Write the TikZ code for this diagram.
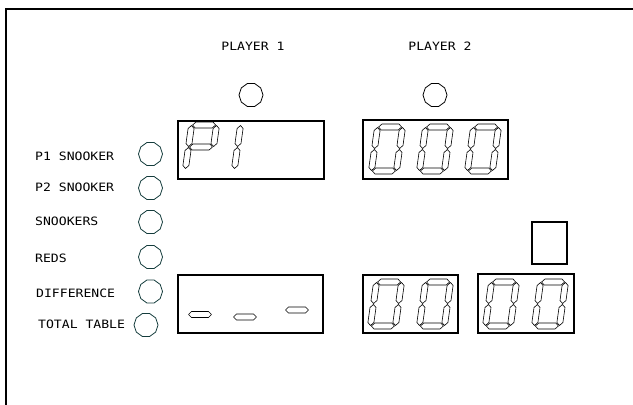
\documentclass[tikz,border=0pt]{standalone}
\usepackage{fontspec}
\newfontfamily\cadfont[FakeStretch=1.14]{DejaVu Sans Mono}
\usetikzlibrary{shapes.geometric}
\definecolor{lampc}{RGB}{20,60,60}
\tikzset{
  seg/.style={draw, line width=0.6pt, line join=round},
  lab/.style={font=\cadfont\fontsize{11.5}{12}\selectfont, inner sep=0pt, anchor=west},
  ttl/.style={font=\cadfont\fontsize{11.5}{12}\selectfont, inner sep=0pt},
  lamp/.style={draw=lampc, regular polygon, regular polygon sides=10, minimum size=24pt, inner sep=0pt, line width=0.8pt},
  plamp/.style={lamp, draw=black},
  panel/.style={draw, line width=1.2pt},
  frameline/.style={draw, line width=1.8pt}
}
\newcommand\hseg[2]{\draw[seg] (#1,#2) ++(-11.5,0) -- ++(3,-3) -- ++(17,0) -- ++(3,3) -- ++(-3,3) -- ++(-17,0) -- cycle;}
\newcommand\vseg[2]{\draw[seg] (#1,#2) ++(0,-10.5) -- ++(3,3) -- ++(0,15) -- ++(-3,3) -- ++(-3,-3) -- ++(0,-15) -- cycle;}
\newcommand\segA{\hseg{0}{-22}}
\newcommand\segB{\vseg{12.5}{-11}}
\newcommand\segC{\vseg{12.5}{11}}
\newcommand\segD{\hseg{0}{22}}
\newcommand\segE{\vseg{-12.5}{11}}
\newcommand\segF{\vseg{-12.5}{-11}}
\newcommand\segG{\hseg{0}{0}}
\newcommand\digit[3]{\begin{scope}[shift={(#1,#2)}, xslant=0.14]#3\end{scope}}
\begin{document}
\begin{tikzpicture}[x=1pt,y=-1pt]
\useasboundingbox (0,0) rectangle (633,405);
% frame
\draw[frameline] (633,9) -- (6,9) -- (6,405);
% titles
\node[ttl] (t1) at (253,46) {PLAYER 1};
\node[ttl] (t2) at (440,46) {PLAYER 2};
\node[plamp] (pl1) at (251,95) {};
\node[plamp] (pl2) at (435,95) {};
% left labels and lamps
\node[lab] (l1) at (35,156) {P1 SNOOKER};
\node[lab] (l2) at (35,187) {P2 SNOOKER};
\node[lab] (l3) at (35,221) {SNOOKERS};
\node[lab] (l4) at (35,258) {REDS};
\node[lab] (l5) at (36,293) {DIFFERENCE};
\node[lab] (l6) at (38,324) {TOTAL TABLE};
\node[lamp] (c1) at (150.5,154) {};
\node[lamp] (c2) at (150.5,188) {};
\node[lamp] (c3) at (150.5,222) {};
\node[lamp] (c4) at (150.5,257) {};
\node[lamp] (c5) at (150.5,291.5) {};
\node[lamp] (c6) at (146,325) {};
% panels
\draw[panel] (178,121) rectangle (324,179);
\draw[panel] (363,120) rectangle (508,179);
\draw[panel] (178,275) rectangle (323,333);
\draw[panel] (363,275) rectangle (458,333);
\draw[panel] (478,274) rectangle (574,333);
\draw[panel] (532,222) rectangle (567,264);
% player 1 display: P 1
\digit{201}{147}{\segA\segB\segF\segG\segE}
\digit{250}{147}{\segE\segF}
% player 2 display: 000
\digit{387}{149}{\segA\segB\segC\segD\segE\segF}
\digit{435}{149}{\segA\segB\segC\segD\segE\segF}
\digit{483}{149}{\segA\segB\segC\segD\segE\segF}
% dashes
\hseg{200}{314.5}
\hseg{245}{317}
\hseg{297}{310}
% lower displays
\digit{386}{304}{\segA\segB\segC\segD\segE\segF}
\digit{435}{304}{\segA\segB\segC\segD\segE\segF}
\digit{501}{304}{\segA\segB\segC\segD\segE\segF}
\digit{550}{304}{\segA\segB\segC\segD\segE\segF}
\end{tikzpicture}
\end{document}
